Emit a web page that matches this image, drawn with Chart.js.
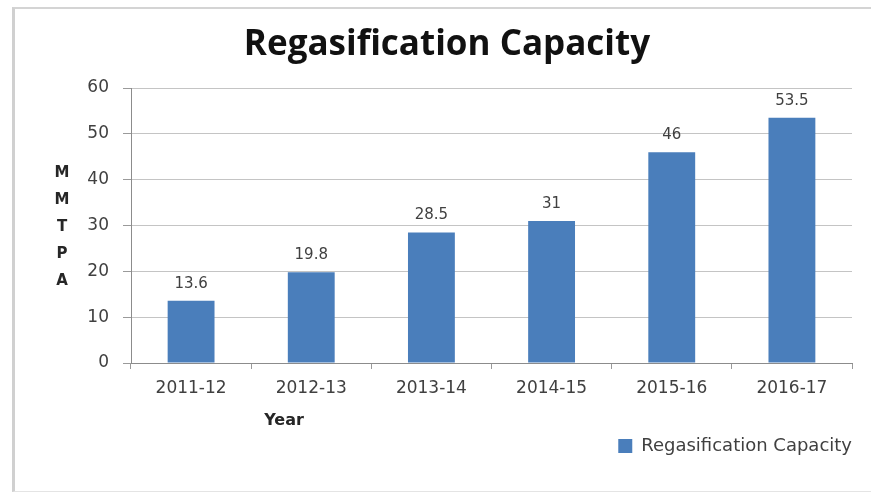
<!DOCTYPE html>
<html>
<head>
<meta charset="utf-8">
<script src="https://cdn.jsdelivr.net/npm/chart.js@4"></script>
<style>
  html, body { margin: 0; padding: 0; background: #fff; }
  .chart-container { position: relative; width: 871px; height: 493px; }
  .frame {
    position: absolute; left: 12px; top: 7px; right: -5px; bottom: 1px;
    border-left: 3px solid #d0d0d0; border-top: 2px solid #d4d4d4; border-bottom: 1px solid #e4e4e4;
    pointer-events: none;
  }
</style>
</head>
<body>
<div class="chart-container">
  <canvas id="capacity-chart" width="871" height="493"></canvas>
  <div class="frame"></div>
</div>
<script>
const years = ['2011-12', '2012-13', '2013-14', '2014-15', '2015-16', '2016-17'];
const capacity = [13.6, 19.8, 28.5, 31, 46, 53.5];
const yTicks = [0, 10, 20, 30, 40, 50, 60];
const yAxisLetters = ['M', 'M', 'T', 'P', 'A'];

const textColor = '#404040';
const barColor = '#4a7ebb';
const labelFont = '"DejaVu Sans", sans-serif';

// Value labels above bars, stacked y-axis title and x-axis title
const annotate = {
  id: 'annotate',
  afterDatasetsDraw(chart) {
    const c = chart.ctx;
    const meta = chart.getDatasetMeta(0);
    c.save();
    c.font = '15px ' + labelFont;
    c.fillStyle = textColor;
    c.textAlign = 'center';
    c.textBaseline = 'middle';
    meta.data.forEach((bar, i) => {
      c.fillText(String(capacity[i]), bar.x, bar.y - 17);
    });

    c.font = 'bold 15px ' + labelFont;
    c.fillStyle = '#262626';
    yAxisLetters.forEach((ch, i) => {
      c.fillText(ch, 62, 173 + i * 27);
    });

    c.font = 'bold 16px ' + labelFont;
    c.fillText('Year', 284, 421);
    c.restore();
  }
};

const ctx = document.getElementById('capacity-chart');

new Chart(ctx, {
  type: 'bar',
  data: {
    labels: years,
    datasets: [{
      label: 'Regasification Capacity',
      data: capacity,
      backgroundColor: barColor,
      borderWidth: 0,
      categoryPercentage: 1,
      barPercentage: 0.39
    }]
  },
  options: {
    responsive: false,
    animation: false,
    layout: { padding: { left: 42, right: 19, top: 0, bottom: 28 } },
    plugins: {
      title: {
        display: true,
        text: 'Regasification Capacity',
        color: '#111',
        font: { family: '"Open Sans", sans-serif', size: 35, weight: 'bold' },
        padding: { top: 24, bottom: 22 }
      },
      legend: {
        position: 'bottom',
        align: 'end',
        labels: {
          color: textColor,
          boxWidth: 14,
          boxHeight: 14,
          padding: 0,
          font: { family: labelFont, size: 18 }
        }
      },
      tooltip: { enabled: false }
    },
    scales: {
      y: {
        min: 0,
        max: 60,
        afterFit: s => { s.width = 89; },
        afterBuildTicks: s => { s.ticks = yTicks.map(v => ({ value: v })); },
        border: { color: '#8c8c8c' },
        grid: { color: '#c4c4c4', tickLength: 8, tickColor: '#9a9a9a' },
        ticks: {
          color: textColor,
          padding: 14,
          font: { family: labelFont, size: 17 }
        }
      },
      x: {
        afterFit: s => { s.height = 74; },
        border: { color: '#8c8c8c' },
        grid: { offset: true, drawOnChartArea: false, tickLength: 6, tickColor: '#9a9a9a' },
        ticks: {
          color: textColor,
          padding: 9,
          font: { family: labelFont, size: 17 }
        }
      }
    }
  },
  plugins: [annotate]
});
</script>
</body>
</html>
